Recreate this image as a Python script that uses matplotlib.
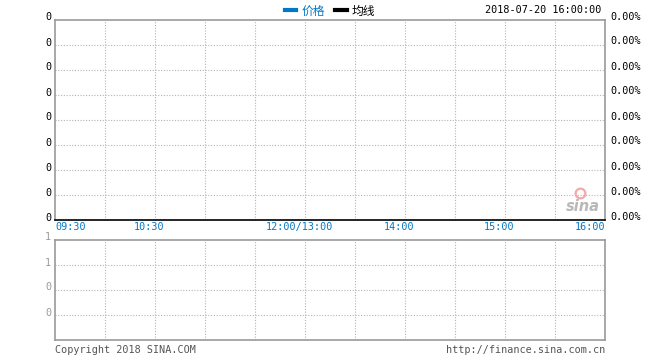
import matplotlib
matplotlib.use("Agg")
import matplotlib.pyplot as plt
import matplotlib.transforms as mtransforms

# 数据（当日无成交，价格与均线为空）
price = []
avg_price = []
volume = []

time_labels = ["09:30", "10:30", "12:00/13:00", "14:00", "15:00", "16:00"]
time_pos = [0, 2, 5, 7, 9, 11]  # 以30分钟格为单位
price_labels = ["0"] * 9
pct_labels = ["0.00%"] * 9
vol_labels = ["1", "1", "0", "0"]
date_text = "2018-07-20 16:00:00"

BLUE = "#0078c8"
GRID = "#b4b4b4"
FRAME = "#999999"
MONO = "DejaVu Sans Mono"
CJK = ["Noto Sans CJK SC", "DejaVu Sans"]
FS = 7.3

fig = plt.figure(figsize=(6.6, 3.6), dpi=100)
W, H = 660, 360

def px_axes(x0, y0, x1, y1):
    return fig.add_axes([x0 / W, 1 - y1 / H, (x1 - x0) / W, (y1 - y0) / H])

ax = px_axes(55, 20, 605, 220)
axv = px_axes(55, 240, 605, 340)

for a in (ax, axv):
    a.set_xlim(0, 11)
    a.set_xticks(range(1, 11))
    a.tick_params(length=0, labelbottom=False, labelleft=False)
    a.grid(True, linestyle=(0, (1, 1.5)), color=GRID, linewidth=0.8)
    for s in a.spines.values():
        s.set_color(FRAME)
        s.set_linewidth(1.2)

ax.set_ylim(0, 8)
ax.set_yticks(range(1, 8))
ax.spines["bottom"].set_color("black")
axv.set_ylim(0, 4)
axv.set_yticks(range(1, 4))

# 价格与均线
ax.plot(range(len(price)), price, color=BLUE, lw=1, label="价格")
ax.plot(range(len(avg_price)), avg_price, color="black", lw=1, label="均线")
axv.bar(range(len(volume)), volume, color=BLUE)

leg = ax.legend(loc="center", bbox_to_anchor=(330 / W, 1 - 11 / H),
                bbox_transform=fig.transFigure, ncol=2, frameon=False,
                handlelength=1.0, handletextpad=0.45, columnspacing=0.8,
                borderaxespad=0, borderpad=0, labelcolor="linecolor",
                prop={"family": CJK, "size": 8.5})
for h in leg.legend_handles:
    h.set_linewidth(3)

up = mtransforms.ScaledTranslation(0, 2.5 / 100, fig.dpi_scale_trans)
up_r = mtransforms.ScaledTranslation(0, 3.5 / 100, fig.dpi_scale_trans)

# 左右刻度标签
for i, lab in enumerate(price_labels):
    y = 8 - i
    ax.text(-0.08, y, lab, transform=ax.transData + up, ha="right", va="center",
            fontsize=FS, family=MONO, color="black")
for i, lab in enumerate(pct_labels):
    y = 8 - i
    ax.text(11.1, y, lab, transform=ax.transData + up_r, ha="left", va="center",
            fontsize=FS, family=MONO, color="black")
for i, lab in enumerate(vol_labels):
    y = 4 - i
    axv.text(-0.08, y, lab, transform=axv.transData + up, ha="right", va="center",
             fontsize=FS, family=MONO, color=FRAME)

# 时间轴标签
shift = mtransforms.ScaledTranslation(-6 / 100, 0, fig.dpi_scale_trans)
for pos, lab in zip(time_pos, time_labels):
    if pos == 0:
        ha, tr = "left", ax.get_xaxis_transform()
    elif pos == 11:
        ha, tr = "right", ax.get_xaxis_transform()
    else:
        ha, tr = "center", ax.get_xaxis_transform() + shift
    ax.text(pos, -0.035, lab, transform=tr, ha=ha, va="center",
            fontsize=FS, family=MONO, color=BLUE)

fig.text(601 / W, 1 - 10 / H, date_text, ha="right", va="center",
         fontsize=FS, family=MONO, color="black")

# sina 水印
ax.plot([0.955], [0.135], transform=ax.transAxes, marker="o", ms=7,
        mfc="none", mec="#f4a8a8", mew=1.6, clip_on=False)
ax.text(0.99, 0.07, "sina", transform=ax.transAxes, ha="right", va="center",
        fontsize=10.5, style="italic", weight="bold", color="#b8b8b8",
        family="DejaVu Sans")

fig.text(55 / W, 1 - 350 / H, "Copyright 2018 SINA.COM", ha="left", va="center",
         fontsize=FS, family=MONO, color="#555555")
fig.text(605 / W, 1 - 350 / H, "http://finance.sina.com.cn", ha="right", va="center",
         fontsize=FS, family=MONO, color="#555555")

fig.savefig("out.png", dpi=100)
